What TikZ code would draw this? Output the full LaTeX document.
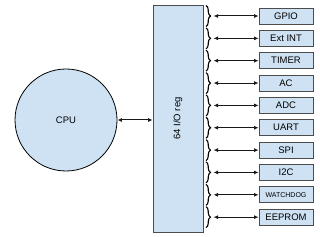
\documentclass[tikz,border=0pt]{standalone}
\usepackage{fontspec}
\setmainfont{Liberation Sans}
\usetikzlibrary{positioning, arrows.meta, decorations.pathreplacing}
\definecolor{boxblue}{HTML}{CFE2F3}
\tikzset{
  blk/.style={draw=black!70,fill=boxblue,line width=0.8pt},
  periph/.style={blk,minimum width=54pt,minimum height=16pt,inner sep=0pt,font=\fontsize{9.5}{11}\selectfont},
  lnk/.style={<->,line width=1pt,black!90},
  brc/.style={decorate,decoration={brace,amplitude=4.5pt},line width=1.1pt}
}

\begin{document}
\begin{tikzpicture}[x=1pt,y=-1pt,>={Latex[length=4.5pt,width=4pt]}]
  \useasboundingbox (0,0) rectangle (320,237);
  \node[blk,circle,draw=black,minimum size=102pt,font=\fontsize{9.5}{11}\selectfont] (cpu) at (66,120) {CPU};
  \node[blk,minimum width=50pt,minimum height=227pt,inner sep=0pt] (reg) at (178,118.5) {};
  \node[rotate=90,font=\fontsize{9.5}{11}\selectfont] (reglbl) at (reg.center) {64 I/O reg};
  \draw[lnk] (cpu.east) -- (cpu.east -| reg.west);
  \foreach \i/\txt in {0/GPIO,1/Ext INT,2/TIMER,3/AC,4/ADC,5/UART,6/SPI,7/I2C,8/{\fontsize{7}{8}\selectfont WATCHDOG},9/EEPROM}{
    \node[periph] (p\i) at (286,16+22.35*\i) {\txt};
    \draw[brc] (206,5.5+22.35*\i) -- (206,26.5+22.35*\i) coordinate[midway,xshift=7.5pt] (b\i);
    \draw[lnk] (b\i) -- (p\i.west);
  }
\end{tikzpicture}
\end{document}
